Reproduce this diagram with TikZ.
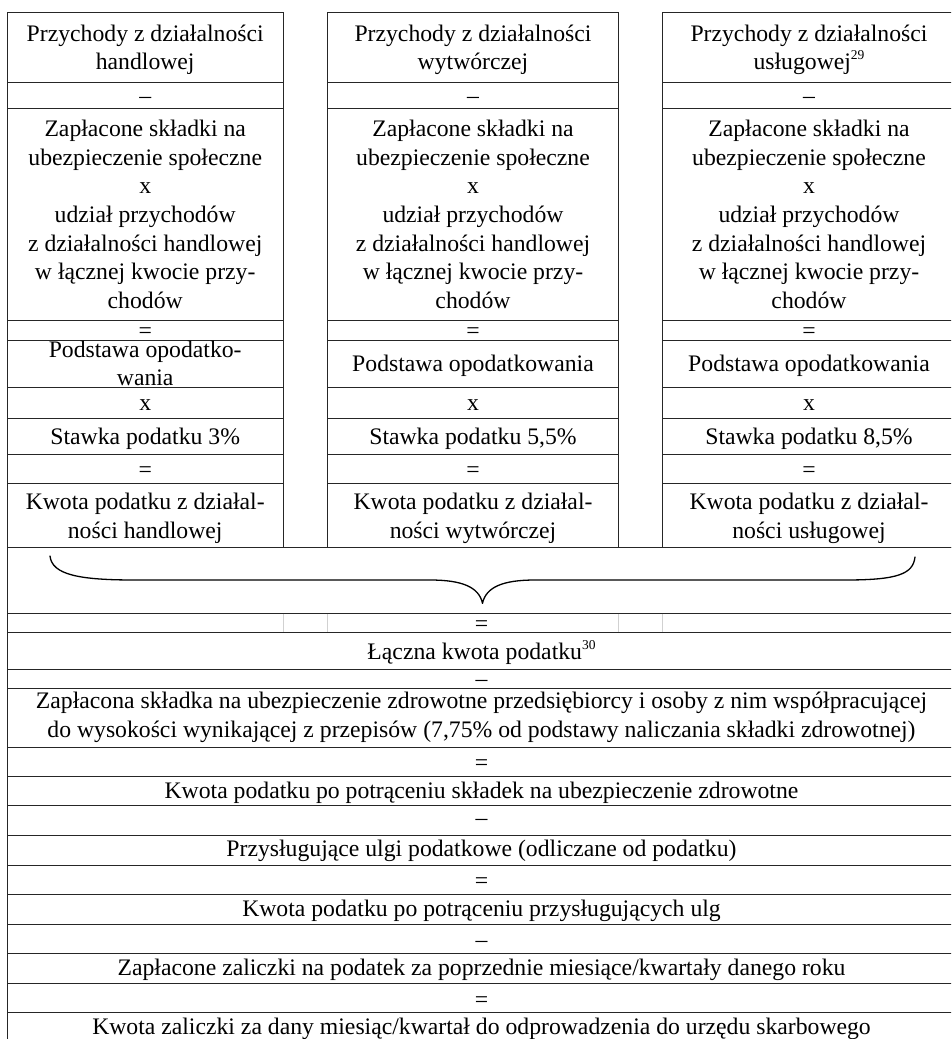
\documentclass[tikz,border=0pt]{standalone}
\usepackage{fontspec}
\setmainfont{Liberation Serif}
\newcommand{\supnum}[1]{\raisebox{0.42em}{\fontsize{13.5}{13.5}\selectfont #1}}
\begin{document}
\begin{tikzpicture}[x=1pt,y=-1pt,
  grid/.style={draw=black!85,line width=1pt},
  faint/.style={draw=black!18,line width=0.8pt},
  bracepath/.style={draw=black,line width=1.3pt,line cap=round,line join=round},
  txt/.style={font=\fontsize{23.7}{28.6}\selectfont,align=center,inner sep=0pt,anchor=base,text=black}]
\useasboundingbox (0,0) rectangle (951,1039);
\clip (0,0) rectangle (951,1039);
% ---- column grids
\foreach \xa/\xb in {7/283.3, 327.3/618.7, 662.3/956}{
  \draw[grid] (\xa,12) rectangle (\xb,547.3);
  \foreach \yy in {82.3,108.7,320.7,340,387.3,418.3,454.7,483.7}
    \draw[grid] (\xa,\yy) -- (\xb,\yy);
}
% ---- full-width grid
\draw[grid] (7,547.3) rectangle (956,1046);
\foreach \yy in {613.3,632,669.3,688.3,747.3,776,805.7,835,865,894,924.3,953.3,983.3,1012.3}
  \draw[grid] (7,\yy) -- (956,\yy);
\foreach \xx in {283.3,327.3,618.7,662.3}
  \draw[faint] (\xx,613.8) -- (\xx,631.5);
% ---- brace
\draw[bracepath] (50,556) .. controls (52,575) and (80,580) .. (135,580)
  -- (430,580) .. controls (462,580) and (479,587) .. (482.5,603.3)
  .. controls (486,587) and (503,580) .. (535,580)
  -- (845,580) .. controls (898,580) and (913,574) .. (915,557);
% ---- column texts (multi-line nodes are anchored at the baseline of their last line)
\foreach \c/\xc in {L/145.2, M/473, R/809}{
  \node[txt] (\c sub) at (\xc,103.3) {–};
  \node[txt] (\c skl) at (\xc,308.3) {Zapłacone składki na\\ubezpieczenie społeczne\\x\\udział przychodów\\z działalności handlowej\\w łącznej kwocie przy-\\chodów};
  \node[txt] (\c eqa) at (\xc,338.4) {=};
  \node[txt] (\c mul) at (\xc,410.6) {x};
  \node[txt] (\c eqb) at (\xc,477) {=};
}
\node[txt] (Lprz) at (145.2,69.9) {Przychody z działalności\\handlowej};
\node[txt] (Mprz) at (473,69.9) {Przychody z działalności\\wytwórczej};
\node[txt] (Rprz) at (809,69.9) {Przychody z działalności\\usługowej\supnum{29}};
\node[txt] (Lpod) at (145.2,385.6) {Podstawa opodatko-\\wania};
\node[txt] (Mpod) at (473,371.6) {Podstawa opodatkowania};
\node[txt] (Rpod) at (809,371.6) {Podstawa opodatkowania};
\node[txt] (Lst) at (145.2,444.3) {Stawka podatku 3\%};
\node[txt] (Mst) at (473,444.3) {Stawka podatku 5,5\%};
\node[txt] (Rst) at (809,444.3) {Stawka podatku 8,5\%};
\node[txt] (Lkw) at (145.2,538.1) {Kwota podatku z działal-\\ności handlowej};
\node[txt] (Mkw) at (473,538.1) {Kwota podatku z działal-\\ności wytwórczej};
\node[txt] (Rkw) at (809,538.1) {Kwota podatku z działal-\\ności usługowej};
% ---- full-width texts
\node[txt] (eq1) at (481.5,631.5) {=};
\node[txt] (lacz) at (481.5,659.5) {Łączna kwota podatku\supnum{30}};
\node[txt] (m1) at (481.5,686.5) {–};
\node[txt] (zdr) at (481.5,737.4) {Zapłacona składka na ubezpieczenie zdrowotne przedsiębiorcy i osoby z nim współpracującej\\do wysokości wynikającej z przepisów (7,75\% od podstawy naliczania składki zdrowotnej)};
\node[txt] (eq2) at (481.5,770) {=};
\node[txt] (kpo) at (481.5,798.3) {Kwota podatku po potrąceniu składek na ubezpieczenie zdrowotne};
\node[txt] (m2) at (481.5,825.5) {–};
\node[txt] (ulgi) at (481.5,856.7) {Przysługujące ulgi podatkowe (odliczane od podatku)};
\node[txt] (eq3) at (481.5,888) {=};
\node[txt] (kpu) at (481.5,916.7) {Kwota podatku po potrąceniu przysługujących ulg};
\node[txt] (m3) at (481.5,947) {–};
\node[txt] (zal) at (481.5,975.3) {Zapłacone zaliczki na podatek za poprzednie miesiące/kwartały danego roku};
\node[txt] (eq4) at (481.5,1007.5) {=};
\node[txt] (fin) at (481.5,1034) {Kwota zaliczki za dany miesiąc/kwartał do odprowadzenia do urzędu skarbowego};
\end{tikzpicture}
\end{document}
